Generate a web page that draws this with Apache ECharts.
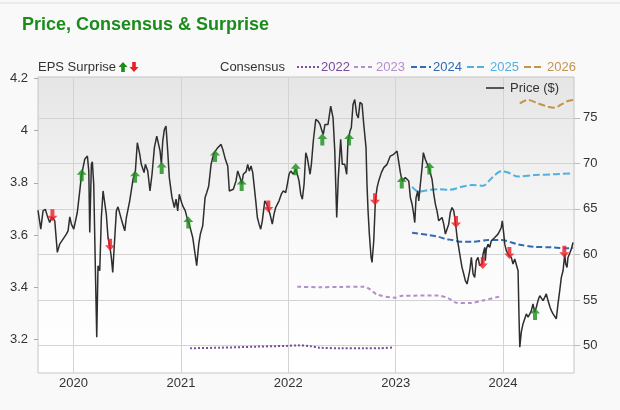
<!DOCTYPE html>
<html><head><meta charset="utf-8">
<script src="https://cdn.jsdelivr.net/npm/echarts@6/dist/echarts.min.js"></script>
<style>html,body{margin:0;padding:0;background:#f9f9f9}#c{width:620px;height:410px}</style>
</head><body><div id="c"></div><script>
const yearTicks = [2020, 2021, 2022, 2023, 2024];
const epsTicks = [3.2, 3.4, 3.6, 3.8, 4.0, 4.2];
const priceTicks = [50, 55, 60, 65, 70, 75];

// [decimal year, price $]
const pricePoints = [
[2019.669,64.85],[2019.695,62.77],[2019.716,64.78],[2019.737,64.96],[2019.756,64.23],[2019.778,63.50],[2019.800,64.12],[2019.825,63.69],[2019.849,60.22],[2019.871,61.13],[2019.902,61.68],[2019.933,62.23],[2019.949,62.59],[2019.965,64.12],[2019.980,63.32],
[2020.002,62.77],[2020.017,62.77],[2020.035,64.60],[2020.058,66.97],[2020.073,68.61],[2020.104,70.44],[2020.129,70.80],[2020.142,69.16],[2020.151,62.41],[2020.166,69.89],[2020.175,70.18],[2020.188,67.70],[2020.203,58.58],[2020.216,50.91],[2020.228,58.76],[2020.244,58.21],[2020.259,64.05],[2020.275,66.97],[2020.291,67.15],[2020.305,64.42],[2020.321,61.86],[2020.337,60.95],[2020.352,59.67],[2020.365,58.03],[2020.384,61.86],[2020.399,64.78],[2020.414,65.22],[2020.430,65.07],[2020.445,63.87],[2020.461,64.05],[2020.477,62.59],[2020.492,64.05],[2020.508,64.05],[2020.523,65.88],[2020.554,68.25],[2020.576,69.16],[2020.594,72.26],[2020.617,70.99],[2020.631,69.89],[2020.657,68.98],[2020.669,69.89],
[2020.691,69.16],[2020.712,66.97],[2020.731,68.80],[2020.753,71.72],[2020.775,72.99],[2020.793,73.18],[2020.806,71.35],[2020.818,69.89],[2020.831,72.45],[2020.846,73.72],[2020.861,74.09],[2020.877,71.35],[2020.892,68.43],[2020.917,66.24],[2020.939,65.15],[2020.955,66.06],[2020.970,64.78],[2020.985,66.61],
[2021.001,65.88],[2021.017,65.33],[2021.041,64.78],[2021.064,63.69],[2021.078,63.32],[2021.094,62.59],[2021.110,61.86],[2021.125,62.04],[2021.147,58.76],[2021.166,61.13],[2021.181,62.23],[2021.203,63.14],[2021.225,66.24],[2021.241,66.79],[2021.259,67.52],[2021.281,69.89],[2021.296,70.62],[2021.311,71.17],[2021.343,71.72],[2021.374,72.08],[2021.390,71.53],[2021.414,70.44],[2021.436,69.71],[2021.451,66.97],[2021.467,66.97],[2021.488,67.15],[2021.513,68.07],[2021.529,69.16],[2021.551,68.43],[2021.566,67.70],[2021.581,68.80],[2021.607,69.09],[2021.622,69.89],[2021.637,69.16],[2021.653,69.71],[2021.669,68.98],[2021.681,68.80],[2021.697,65.88],[2021.712,64.05],[2021.728,63.32],[2021.743,62.77],[2021.758,63.69],[2021.781,65.88],[2021.799,65.51],[2021.811,65.15],[2021.830,64.42],[2021.851,63.32],[2021.867,64.42],[2021.883,65.15],[2021.898,64.96],[2021.914,65.88],[2021.935,66.61],[2021.954,66.97],[2021.976,66.79],[2021.991,67.70],
[2022.007,68.80],[2022.023,69.16],[2022.047,68.80],[2022.069,69.34],[2022.084,68.80],[2022.100,68.07],[2022.116,66.61],[2022.131,66.06],[2022.147,67.70],[2022.163,71.17],[2022.177,70.62],[2022.203,68.80],[2022.215,69.89],[2022.233,72.45],[2022.256,74.82],[2022.277,74.64],[2022.296,74.27],[2022.314,73.54],[2022.326,73.18],[2022.342,74.27],[2022.358,74.45],[2022.370,74.27],[2022.395,76.28],[2022.417,75.00],[2022.433,71.35],[2022.451,64.05],[2022.466,68.43],[2022.488,72.63],[2022.503,69.89],[2022.526,69.89],[2022.544,68.80],[2022.556,72.45],[2022.575,73.54],[2022.587,73.91],[2022.603,76.46],[2022.619,77.01],[2022.637,75.36],[2022.652,75.00],[2022.668,76.70],[2022.687,76.50],[2022.703,74.27],[2022.724,71.72],[2022.733,67.70],[2022.743,64.78],[2022.755,62.23],[2022.771,59.67],[2022.780,59.12],[2022.796,61.50],[2022.811,65.88],[2022.827,67.34],[2022.842,68.07],[2022.867,68.98],[2022.889,69.53],[2022.904,69.34],[2022.920,69.89],[2022.936,70.07],[2022.950,70.80],[2022.966,70.62],[2022.982,70.99],[2022.997,70.80],
[2023.013,71.35],[2023.029,71.17],[2023.044,68.98],[2023.059,68.07],[2023.075,68.25],[2023.090,68.43],[2023.106,68.61],[2023.122,68.07],[2023.137,66.24],[2023.153,65.51],[2023.168,64.42],[2023.178,63.50],[2023.190,66.24],[2023.206,66.97],[2023.215,65.88],[2023.230,67.70],[2023.246,69.53],[2023.258,71.17],[2023.276,70.44],[2023.292,70.26],[2023.308,69.53],[2023.323,69.34],[2023.339,68.25],[2023.355,66.61],[2023.370,65.51],[2023.385,64.78],[2023.401,63.69],[2023.416,63.50],[2023.432,64.05],[2023.448,63.32],[2023.463,62.23],[2023.478,62.41],[2023.494,63.32],[2023.509,64.60],[2023.525,65.15],[2023.541,64.78],[2023.556,63.61],[2023.572,61.86],[2023.587,60.77],[2023.602,59.67],[2023.618,58.58],[2023.634,57.85],[2023.649,57.12],[2023.665,56.75],[2023.690,58.21],[2023.705,59.67],[2023.721,57.85],[2023.736,57.48],[2023.751,59.31],[2023.767,59.67],[2023.783,58.76],[2023.804,58.94],[2023.814,60.04],[2023.830,60.77],[2023.835,59.31],[2023.844,60.58],[2023.860,61.13],[2023.876,60.77],[2023.891,61.50],[2023.907,61.31],[2023.923,61.86],[2023.938,61.86],[2023.953,62.23],[2023.969,62.59],[2023.984,62.96],[2023.993,63.69],
[2024.007,62.23],[2024.016,61.13],[2024.031,60.40],[2024.047,60.04],[2024.062,59.85],[2024.077,59.67],[2024.093,58.94],[2024.109,59.49],[2024.124,59.31],[2024.140,58.21],[2024.149,53.10],[2024.156,49.82],[2024.170,51.46],[2024.186,52.37],[2024.202,52.55],[2024.217,53.47],[2024.233,53.10],[2024.249,53.47],[2024.264,53.83],[2024.279,54.56],[2024.295,53.65],[2024.310,54.20],[2024.326,54.93],[2024.342,55.47],[2024.357,55.66],[2024.373,54.93],[2024.388,55.29],[2024.403,55.66],[2024.419,54.93],[2024.438,54.20],[2024.450,53.83],[2024.466,53.47],[2024.482,53.28],[2024.496,52.92],[2024.512,54.56],[2024.528,56.02],[2024.543,57.48],[2024.559,58.21],[2024.575,60.04],[2024.584,58.94],[2024.596,58.58],[2024.605,59.67],[2024.624,60.22],[2024.636,60.58],[2024.652,61.31]
];

// Consensus EPS by fiscal year: [decimal year, EPS]
const cons2022 = [[2021.085,3.166],[2021.364,3.168],[2021.700,3.172],[2021.988,3.175],[2022.091,3.177],[2022.203,3.174],[2022.296,3.168],[2022.482,3.166],[2022.706,3.166],[2022.855,3.166],[2022.976,3.169]];
const cons2023 = [[2022.084,3.402],[2022.296,3.400],[2022.482,3.401],[2022.706,3.402],[2022.761,3.392],[2022.827,3.372],[2022.994,3.360],[2023.059,3.367],[2023.395,3.368],[2023.488,3.358],[2023.572,3.340],[2023.693,3.339],[2023.823,3.350],[2023.986,3.366]];
const cons2024 = [[2023.153,3.609],[2023.308,3.600],[2023.401,3.593],[2023.463,3.585],[2023.525,3.581],[2023.618,3.574],[2023.711,3.574],[2023.860,3.581],[2023.984,3.581],[2024.140,3.564],[2024.295,3.555],[2024.450,3.553],[2024.605,3.549],[2024.652,3.551]];
const cons2025 = [[2023.153,3.785],[2023.215,3.766],[2023.308,3.773],[2023.401,3.776],[2023.494,3.773],[2023.618,3.785],[2023.711,3.792],[2023.814,3.789],[2023.891,3.817],[2023.984,3.845],[2024.047,3.840],[2024.140,3.824],[2024.295,3.830],[2024.482,3.833],[2024.652,3.837]];
const cons2026 = [[2024.156,4.105],[2024.233,4.118],[2024.326,4.105],[2024.419,4.092],[2024.482,4.088],[2024.543,4.101],[2024.605,4.114],[2024.661,4.118]];

// EPS surprises, plotted at the price on the report date
const surpriseDates = [2019.803,2020.076,2020.340,2020.573,2020.821,2021.069,2021.318,2021.566,2021.814,2022.069,2022.317,2022.566,2022.808,2023.057,2023.314,2023.562,2023.811,2024.059,2024.298,2024.571];
const surprisePrices = [64.31,68.68,61.06,68.54,69.48,63.51,70.80,67.62,65.26,69.34,72.63,72.63,66.06,67.89,69.42,63.57,59.05,60.15,53.47,60.29];
const surpriseKinds = ['miss','beat','miss','beat','beat','beat','beat','beat','miss','beat','beat','beat','miss','beat','beat','miss','miss','miss','beat','miss'];

const FONT = '"Liberation Sans", Arial, Helvetica, sans-serif';
const UP = 'path://M5 0 L10 5.5 L7 5.5 L7 12 L3 12 L3 5.5 L0 5.5 Z';
const DOWN = 'path://M3 0 L7 0 L7 6.5 L10 6.5 L5 12 L0 6.5 L3 6.5 Z';
const C = {c22:'#7a4a9c', c23:'#b48dcb', c24:'#2f6cb3', c25:'#53afdf', c26:'#c4944e', green:'#1b8c1b', red:'#ee1b24'};

const beats = [], misses = [];
surpriseDates.forEach((d, i) => {
  (surpriseKinds[i] === 'beat' ? beats : misses).push([d, surprisePrices[i]]);
});

const chart = echarts.init(document.getElementById('c'), null, {renderer:'canvas'});

function legendText(x, txt, color) {
  return {type:'text', x:x, y:67, z:100, style:{text:txt, fill:color, font:'13px ' + FONT, verticalAlign:'middle'}};
}
function legendLine(x1, x2, color, dash) {
  return {type:'line', z:100, shape:{x1:x1, y1:67, x2:x2, y2:67}, style:{stroke:color, lineWidth:2, lineDash:dash}};
}
function upArrow(cx, cy, color) {
  return {type:'polygon', z:100, shape:{points:[[cx,cy-5],[cx+4.5,cy],[cx+1.8,cy],[cx+1.8,cy+5],[cx-1.8,cy+5],[cx-1.8,cy],[cx-4.5,cy]]}, style:{fill:color}};
}
function downArrow(cx, cy, color) {
  return {type:'polygon', z:100, shape:{points:[[cx-1.8,cy-5],[cx+1.8,cy-5],[cx+1.8,cy],[cx+4.5,cy],[cx,cy+5],[cx-4.5,cy],[cx-1.8,cy]]}, style:{fill:color}};
}

chart.setOption({
  animation: false,
  backgroundColor: '#f9f9f9',
  textStyle: {fontFamily: FONT},
  grid: {left:38, right:46, top:77, bottom:37, show:true, borderColor:'#c6c6c6', borderWidth:1,
    backgroundColor: {type:'linear', x:0, y:0, x2:0, y2:1, colorStops:[{offset:0,color:'#e5e5e5'},{offset:0.6,color:'#fbfbfb'},{offset:1,color:'#ffffff'}]}},
  xAxis: {type:'value', min:2019.669, max:2024.661,
    axisLine:{show:false}, axisTick:{show:false, customValues: yearTicks},
    axisLabel:{customValues: yearTicks, formatter: v => String(Math.round(v)), color:'#333', fontSize:13, margin:4, fontFamily:FONT},
    splitLine:{show:true, lineStyle:{color:'#d3d3d3', width:1}}},
  yAxis: [
    {type:'value', min:3.071, max:4.206, position:'left',
      axisLine:{show:false}, axisTick:{show:true, length:4, customValues: epsTicks, lineStyle:{color:'#aaa'}},
      axisLabel:{customValues: epsTicks, formatter: v => String(+(+v).toFixed(1)), color:'#333', fontSize:13, margin:10, fontFamily:FONT},
      splitLine:{show:false}},
    {type:'value', min:46.98, max:79.48, position:'right',
      axisLine:{show:false}, axisTick:{show:true, length:6, customValues: priceTicks, lineStyle:{color:'#bbb'}},
      axisLabel:{customValues: priceTicks, color:'#333', fontSize:13, margin:9, fontFamily:FONT},
      splitLine:{show:true, lineStyle:{color:'#d3d3d3', width:1}}}
  ],
  series: [
    {name:'2022', type:'line', yAxisIndex:0, data:cons2022, showSymbol:false, smooth:0.3, lineStyle:{color:C.c22, width:2, type:[2,2]}, z:2},
    {name:'2023', type:'line', yAxisIndex:0, data:cons2023, showSymbol:false, smooth:0.3, lineStyle:{color:C.c23, width:2, type:[4,3]}, z:2},
    {name:'2024', type:'line', yAxisIndex:0, data:cons2024, showSymbol:false, smooth:0.3, lineStyle:{color:C.c24, width:2, type:[6,3]}, z:2},
    {name:'2025', type:'line', yAxisIndex:0, data:cons2025, showSymbol:false, smooth:0.3, lineStyle:{color:C.c25, width:2, type:[7,3]}, z:2},
    {name:'2026', type:'line', yAxisIndex:0, data:cons2026, showSymbol:false, smooth:0.3, lineStyle:{color:C.c26, width:2, type:[7,3]}, z:2},
    {name:'Price ($)', type:'line', yAxisIndex:1, data:pricePoints, showSymbol:false, lineStyle:{color:'#2e2e2e', width:1.5}, z:3},
    {name:'Beat', type:'scatter', yAxisIndex:1, data:beats, symbol:UP, symbolSize:[10,12], itemStyle:{color:C.green}, z:5},
    {name:'Miss', type:'scatter', yAxisIndex:1, data:misses, symbol:DOWN, symbolSize:[10,12], itemStyle:{color:C.red}, z:5}
  ],
  graphic: [
    {type:'line', shape:{x1:0, y1:3, x2:620, y2:3}, style:{stroke:'#dddddd', lineWidth:1}},
    {type:'text', x:22, y:25, style:{text:'Price, Consensus & Surprise', fill:C.green, font:'bold 18px ' + FONT, verticalAlign:'middle'}},
    legendText(38, 'EPS Surprise', '#333'),
    upArrow(123, 67, C.green),
    downArrow(134, 67, C.red),
    legendText(220, 'Consensus', '#333'),
    legendLine(297, 319, C.c22, [2,2]),
    legendText(321, '2022', C.c22),
    legendLine(354, 373, C.c23, [4,3]),
    legendText(376, '2023', C.c23),
    legendLine(411, 431, C.c24, [6,3]),
    legendText(433, '2024', C.c24),
    legendLine(467, 487, C.c25, [7,3]),
    legendText(490, '2025', C.c25),
    legendLine(524, 544, C.c26, [7,3]),
    legendText(547, '2026', C.c26),
    {type:'line', z:100, shape:{x1:486, y1:88, x2:504, y2:88}, style:{stroke:'#555', lineWidth:2}},
    {type:'text', x:510, y:88, z:100, style:{text:'Price ($)', fill:'#333', font:'13px ' + FONT, verticalAlign:'middle'}}
  ]
});
</script></body></html>
